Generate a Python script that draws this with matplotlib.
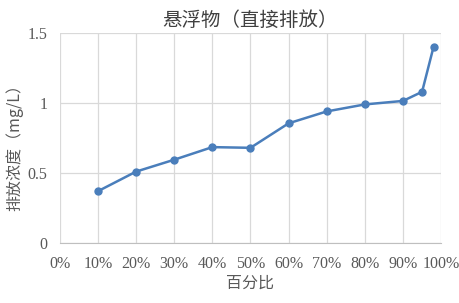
# suspended solids (direct discharge) — concentration vs percentile
import matplotlib
matplotlib.use("Agg")
import matplotlib.pyplot as plt
from matplotlib.ticker import FuncFormatter

pct = [10, 20, 30, 40, 50, 60, 70, 80, 90, 95, 98]
conc = [0.37, 0.51, 0.595, 0.685, 0.68, 0.855, 0.94, 0.99, 1.015, 1.08, 1.40]
xticks = list(range(0, 101, 10))
yticks = [0, 0.5, 1, 1.5]

cjk = ['Noto Sans CJK SC', 'DejaVu Sans']
serif = ['Liberation Serif', 'DejaVu Serif']
txt = '#595959'
grid = '#d9d9d9'
blue = '#4a7ebb'

fig = plt.figure(figsize=(4.6, 3.03), dpi=100)
ax = fig.add_axes([0.130, 0.198, 0.829, 0.693])

ax.plot(pct, conc, color=blue, lw=1.8, marker='o', ms=5, zorder=3)

ax.set_xlim(0, 100)
ax.set_ylim(0, 1.5)
ax.set_xticks(xticks)
ax.set_yticks(yticks)
ax.xaxis.set_major_formatter(FuncFormatter(lambda v, p: f"{int(v)}%"))
ax.yaxis.set_major_formatter(FuncFormatter(lambda v, p: f"{v:g}"))
ax.grid(True, color=grid, lw=0.9)
ax.set_axisbelow(True)
for s in ['top', 'right', 'left']:
    ax.spines[s].set_visible(False)
ax.spines['bottom'].set_color('#bfbfbf')
ax.tick_params(length=0, colors=txt, labelsize=11.5, pad=9)
ax.tick_params(axis='y', pad=9)
for lab in ax.get_xticklabels() + ax.get_yticklabels():
    lab.set_family(serif)

ax.set_title('悬浮物（直接排放）', family=cjk, fontsize=14, color='#404040',
             fontweight='medium', pad=5)
ax.set_xlabel('百分比', family=cjk, fontsize=11.5, color=txt, labelpad=2)
ax.set_ylabel('排放浓度（mg/L）', family=cjk, fontsize=11.5, color=txt, va='center')
ax.yaxis.set_label_coords(-0.118, 0.476)

fig.savefig('out.png', dpi=100)
